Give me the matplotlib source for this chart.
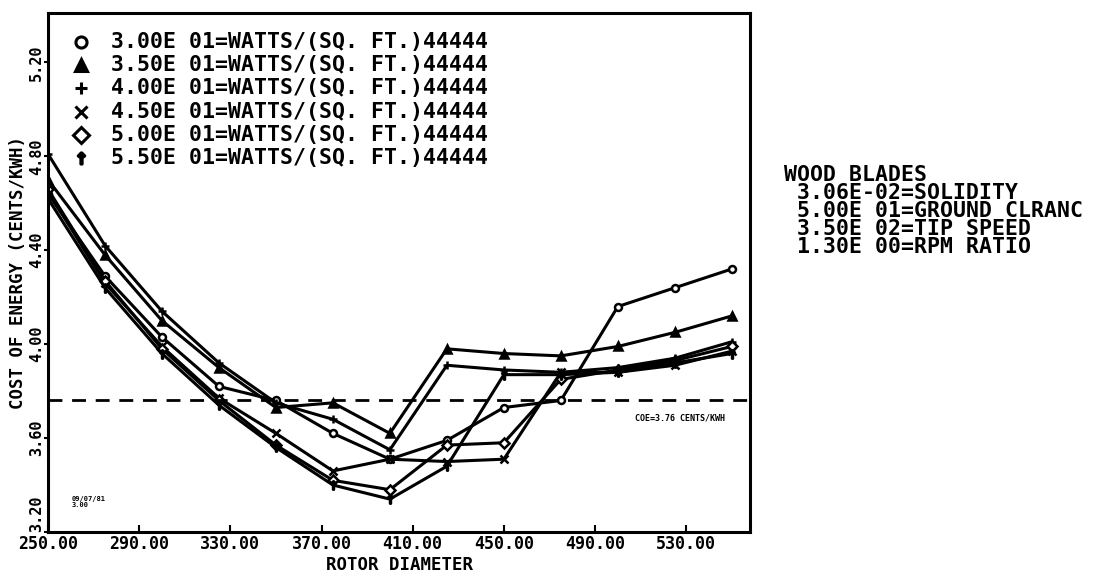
import matplotlib
matplotlib.use("Agg")
import matplotlib.pyplot as plt

# rotor diameters (ft)
diameters = [250, 275, 300, 325, 350, 375, 400, 425, 450, 475, 500, 525, 550]

# cost of energy (cents/kWh), one list per power density
coe_30 = [4.64, 4.29, 4.03, 3.82, 3.76, 3.62, 3.51, 3.59, 3.73, 3.76, 4.16, 4.24, 4.32]
coe_35 = [4.70, 4.38, 4.10, 3.90, 3.73, 3.75, 3.62, 3.98, 3.96, 3.95, 3.99, 4.05, 4.12]
coe_40 = [4.81, 4.42, 4.14, 3.92, 3.75, 3.68, 3.55, 3.91, 3.89, 3.88, 3.90, 3.94, 4.01]
coe_45 = [4.65, 4.26, 3.99, 3.77, 3.62, 3.46, 3.51, 3.50, 3.51, 3.88, 3.88, 3.91, 3.97]
coe_50 = [4.66, 4.27, 3.98, 3.76, 3.57, 3.42, 3.38, 3.57, 3.58, 3.85, 3.89, 3.93, 3.99]
coe_55 = [4.62, 4.24, 3.96, 3.74, 3.56, 3.40, 3.34, 3.48, 3.87, 3.87, 3.88, 3.92, 3.96]

power_labels = [
    "3.00E 01=WATTS/(SQ. FT.)44444",
    "3.50E 01=WATTS/(SQ. FT.)44444",
    "4.00E 01=WATTS/(SQ. FT.)44444",
    "4.50E 01=WATTS/(SQ. FT.)44444",
    "5.00E 01=WATTS/(SQ. FT.)44444",
    "5.50E 01=WATTS/(SQ. FT.)44444",
]
markers = ["o", "^", "+", "x", "D", r"$\uparrow$"]
series = [coe_30, coe_35, coe_40, coe_45, coe_50, coe_55]

side_notes = [
    "WOOD BLADES",
    " 3.06E-02=SOLIDITY",
    " 5.00E 01=GROUND CLRANC",
    " 3.50E 02=TIP SPEED",
    " 1.30E 00=RPM RATIO",
]

coe_ref = 3.76
xticks = [250, 290, 330, 370, 410, 450, 490, 530]
yticks = [3.20, 3.60, 4.00, 4.40, 4.80, 5.20]

font = dict(family="DejaVu Sans Mono", weight="bold")

fig = plt.figure(figsize=(11.03, 5.76), dpi=100)
ax = fig.add_axes([0.0435, 0.0764, 0.6365, 0.9010])

for vals, mk in zip(series, markers):
    ms = 5 if mk in ("o", "D") else 6
    ax.plot(diameters, vals, color="black", lw=2.2, marker=mk, ms=ms,
            mfc="white" if mk in ("o", "D") else "black", mec="black", mew=1.8)

ax.axhline(coe_ref, color="black", lw=2, ls=(0, (5, 3.5)))
ax.text(0.965, coe_ref - 0.075, "COE=3.76 CENTS/KWH", fontsize=6, ha="right",
        va="center", transform=ax.get_yaxis_transform(), **font)

ax.set_xlim(250, 558)
ax.set_ylim(3.20, 5.41)
ax.set_xticks(xticks)
ax.set_xticklabels([f"{t:.2f}" for t in xticks], fontsize=12, **font)
ax.set_yticks(yticks)
ylabs = ax.set_yticklabels([f"{t:.2f}" for t in yticks], fontsize=11,
                           rotation=90, va="center", **font)
ylabs[0].set_va("bottom")
ax.tick_params(axis="x", direction="in", length=5, width=1.5, pad=2)
ax.tick_params(axis="y", direction="out", length=3, width=1.5, pad=0)
for s in ax.spines.values():
    s.set_linewidth(2.2)

ax.set_xlabel("ROTOR DIAMETER", fontsize=12.5, **font)
ax.xaxis.set_label_coords(0.5, -0.047)
ax.set_ylabel("COST OF ENERGY (CENTS/KWH)", fontsize=12.5, **font)
ax.yaxis.set_label_coords(-0.030, 0.5)

# legend drawn by hand
for i, (mk, lab) in enumerate(zip(markers, power_labels)):
    yy = 0.944 - i * 0.0446
    ax.plot([0.047], [yy], marker=mk, color="black", ms=8, mew=2.2,
            mfc="white" if mk in ("o", "D") else "black",
            transform=ax.transAxes, clip_on=False)
    ax.text(0.09, yy, lab, fontsize=15.5, va="center", transform=ax.transAxes, **font)

ax.text(0.033, 0.058, "09/07/81\n3.00", fontsize=5, va="center",
        transform=ax.transAxes, linespacing=0.9, **font)

for i, line in enumerate(side_notes):
    fig.text(0.711, 1 - (175 + i * 18) / 576, line, fontsize=15.5, va="center",
             **font)

fig.savefig("out.png", dpi=100)
